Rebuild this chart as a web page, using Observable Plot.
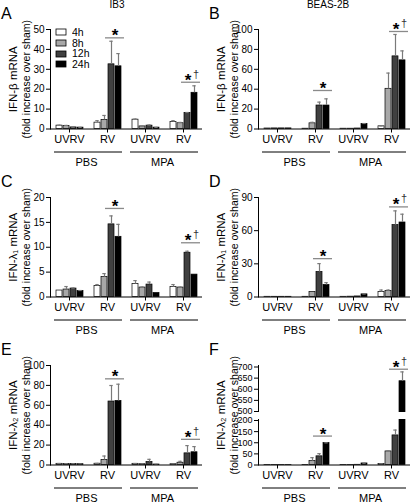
<!DOCTYPE html>
<html><head><meta charset="utf-8">
<script src="https://cdn.jsdelivr.net/npm/d3@7"></script>
<script src="https://cdn.jsdelivr.net/npm/@observablehq/plot@0.6"></script>
<style>
html,body{margin:0;padding:0;background:#fff;}
#fig{position:relative;width:416px;height:503px;overflow:hidden;font-family:Arial,"Liberation Sans",Helvetica,sans-serif;color:#000;}
#fig .panel{position:absolute;}
#fig .letter{position:absolute;font-size:16px;line-height:1;}
#fig .title{position:absolute;font-size:10px;line-height:1;transform:translateX(-50%);white-space:nowrap;}
#fig .legbox{position:absolute;left:56px;top:27px;}
#fig .leg-swatches{font-family:Arial,"Liberation Sans",sans-serif !important;font-size:10.5px !important;margin:0 !important;}
#fig .leg-swatch{padding-bottom:0 !important;height:10.7px;line-height:10.7px;}
#fig .leg-swatch svg{margin-right:6px !important;}
#fig .leg-swatch svg rect{stroke:#000;stroke-width:0.8px;}
</style></head>
<body><div id="fig"></div>
<script>
const FONT = 'Arial, "Liberation Sans", Helvetica, sans-serif';

// categories
const times = ["4h", "8h", "12h", "24h"];
const treatments = ["PBS", "MPA"];
const infections = ["UVRV", "RV"];
const groups = ["PBS|UVRV", "PBS|RV", "MPA|UVRV", "MPA|RV"];
const timeColors = ["#ffffff", "#a8a8a8", "#404040", "#000000"];
const cellLines = ["IB3", "BEAS-2B"];
const letters = ["A", "B", "C", "D", "E", "F"];
const yLabels = ["IFN-β mRNA", "IFN-λ₁ mRNA", "IFN-λ₂ mRNA"];
const yLabel2 = "(fold increase over sham)";

// A: IFN-beta, IB3 (rows = groups, cols = times)
const meanA = [[1.7, 1.5, 0.8, 0.7], [3.2, 4.6, 32.5, 31.5], [4.7, 1.3, 1.7, 0.7], [3.5, 2.9, 8.1, 18.2]];
const errA  = [[0.2, 0.3, 0.1, 0.1], [1.0, 2.2, 11.6, 6.4], [0.3, 0.1, 0.3, 0.1], [0.7, 0.4, 0.2, 3.5]];
const ticksA = [0, 10, 20, 30, 40, 50];
const sigA = [45.8, 23.5];
// B: IFN-beta, BEAS-2B
const meanB = [[0.5, 0.6, 0.6, 0.6], [0.3, 5.7, 23.6, 23.6], [0.3, 0.3, 0.5, 5.0], [2.7, 40.4, 73, 69]];
const errB  = [[0, 0, 0, 0], [0, 1.0, 3.4, 6.7], [0, 0, 0, 0.5], [0.3, 15.8, 22, 9.5]];
const ticksB = [0, 20, 40, 60, 80, 100];
const sigB = [38.7, 98];
// C: IFN-lambda1, IB3
const meanC = [[1.3, 1.5, 1.7, 1.2], [2.2, 4.0, 14.6, 12.1], [2.6, 1.9, 2.5, 0.8], [2.0, 1.9, 8.9, 4.5]];
const errC  = [[0, 0.6, 0.1, 0.1], [0.3, 0.7, 1.7, 2.5], [0.7, 0.1, 0.5, 0], [0.5, 0.1, 0.3, 0]];
const ticksC = [0, 5, 10, 15, 20];
const sigC = [17.8, 10.9];
// D: IFN-lambda1, BEAS-2B
const meanD = [[0.2, 0.2, 0.2, 0.2], [0.2, 4.5, 22.6, 10.9], [0.2, 0.3, 0.5, 2.4], [4.5, 5.4, 65, 67.4]];
const errD  = [[0, 0, 0, 0], [0, 0, 7.6, 2.1], [0, 0, 0, 0.3], [1.8, 0.9, 12.9, 7.5]];
const ticksD = [0, 30, 60, 90];
const sigD = [34.7, 81.5];
// E: IFN-lambda2, IB3
const meanE = [[1.2, 1.0, 1.0, 0.8], [1.3, 5.0, 63.8, 64.4], [1.2, 0.8, 3.0, 0.5], [0.8, 2.3, 11.7, 12.8]];
const errE  = [[0.3, 0.3, 0.2, 0.2], [0.3, 4.0, 16.1, 16.8], [0.3, 0.2, 2.7, 0.1], [0.2, 1.4, 7.8, 5.7]];
const ticksE = [0, 20, 40, 60, 80, 100];
const sigE = [86.6, 25.8];
// F: IFN-lambda2, BEAS-2B (broken axis 200 -> 500)
const meanF = [[0.2, 0.2, 0.2, 0.2], [0.3, 17.4, 39, 98.5], [0.2, 0.2, 1, 7], [4, 61, 133, 636]];
const errF  = [[0, 0, 0, 0], [0, 15.6, 12, 1], [0, 0, 0, 1], [0.5, 3, 24, 42]];
const ticksF = [0, 50, 100, 150, 200, 500, 550, 600, 650, 700];
const sigF = [130, 690];
const breakF = [200, 500];

const panels = [
  {mean: meanA, err: errA, ticks: ticksA, sig: sigA, gene: 0},
  {mean: meanB, err: errB, ticks: ticksB, sig: sigB, gene: 0},
  {mean: meanC, err: errC, ticks: ticksC, sig: sigC, gene: 1},
  {mean: meanD, err: errD, ticks: ticksD, sig: sigD, gene: 1},
  {mean: meanE, err: errE, ticks: ticksE, sig: sigE, gene: 2},
  {mean: meanF, err: errF, ticks: ticksF, sig: sigF, gene: 2, brk: breakF}
];

const W = 208, H = 168, MT = 29, MB = 39.5, ML = 49, MR = 5;

function makePanel(p) {
  const rows = groups.flatMap((g, i) => times.map((t, j) => ({group: g, time: t, mean: p.mean[i][j], err: p.err[i][j]})));
  const errRows = rows.filter(d => d.err > 0);
  const sigPBS = [{group: groups[1], y: p.sig[0], star: "*"}];
  const sigMPA = [{group: groups[3], y: p.sig[1], star: "*", dag: "†"}];
  const top = d3.max(p.ticks);
  const yScale = p.brk
    ? {type: "linear", domain: [0, p.brk[0], p.brk[1], top], range: [H - MB, 84, 75, 30.5]}
    : {domain: [0, top]};
  const marks = [
    Plot.barY(rows, {fx: "group", x: "time", y: "mean", fill: "time", stroke: "#000", strokeWidth: 0.7}),
    Plot.ruleX(errRows, {fx: "group", x: "time", y1: "mean", y2: d => d.mean + d.err, stroke: "#7a7a7a", strokeWidth: 1.2}),
    Plot.tickY(errRows, {fx: "group", x: "time", y: d => d.mean + d.err, stroke: "#7a7a7a", strokeWidth: 1.2, insetLeft: 1.3, insetRight: 1.3})
  ];
  if (p.brk) {
    marks.push(Plot.rect([p.brk], {y1: d => d[0], y2: d => d[1], fill: "#fff", insetTop: 1, insetBottom: 1, insetLeft: -3}));
  }
  marks.push(
    Plot.ruleY([0], {stroke: "#000", strokeWidth: 1}),
    Plot.axisFx({anchor: "bottom", tickSize: 4, tickPadding: 2, fontSize: 11, label: null, tickFormat: d => d.split("|")[1]}),
    Plot.ruleY(groups.filter(g => g.endsWith("|UVRV")), {fx: d => d, y: () => 0, dy: 23, insetLeft: 4, stroke: "#000"}),
    Plot.ruleY(groups.filter(g => g.endsWith("|RV")), {fx: d => d, y: () => 0, dy: 23, insetRight: 4, stroke: "#000"}),
    Plot.text(treatments, {fx: d => d + "|UVRV", text: d => d, frameAnchor: "bottom-right", textAnchor: "middle", lineAnchor: "middle", dy: 33, dx: -2, fontSize: 11}),
    Plot.ruleY(sigPBS.concat(sigMPA), {fx: "group", y: "y", insetLeft: 17, insetRight: 2, stroke: "#8a8a8a", strokeWidth: 1.3}),
    Plot.text(sigPBS, {fx: "group", x: () => "12h", y: "y", text: "star", dx: 3.6, dy: -2, fontSize: 17, fontWeight: "bold", lineAnchor: "middle"}),
    Plot.text(sigMPA, {fx: "group", x: () => "12h", y: "y", text: "star", dx: 0.6, dy: -2, fontSize: 17, fontWeight: "bold", lineAnchor: "middle"}),
    Plot.text(sigMPA, {fx: "group", x: () => "12h", y: "y", text: "dag", dx: 8.5, dy: -8, fontSize: 11, fill: "#333", lineAnchor: "middle"}),
    Plot.text([yLabels[p.gene]], {fx: () => groups[0], text: d => d, frameAnchor: "left", textAnchor: "middle", lineAnchor: "middle", rotate: -90, dx: -37, fontSize: 11.5}),
    Plot.text([yLabel2], {fx: () => groups[0], text: d => d, frameAnchor: "left", textAnchor: "middle", lineAnchor: "middle", rotate: -90, dx: -24, fontSize: 10.5})
  );
  return Plot.plot({
    width: W, height: H, marginTop: MT, marginBottom: MB, marginLeft: ML, marginRight: MR,
    style: {fontFamily: FONT, fontSize: p.brk ? "9px" : "10px", overflow: "visible", background: "transparent", color: "#000"},
    fx: {domain: groups, paddingInner: 0, paddingOuter: 0, label: null},
    x: {domain: times, paddingInner: 0.15, paddingOuter: 0.55, axis: null},
    y: {...yScale, ticks: p.ticks, tickSize: 4, tickPadding: 2, label: null, line: true, tickFormat: d => String(d)},
    color: {domain: times, range: timeColors},
    marks
  });
}

const fig = document.getElementById("fig");
panels.forEach((p, k) => {
  const col = k % 2, row = Math.floor(k / 2);
  const wrap = document.createElement("div");
  wrap.className = "panel";
  wrap.style.left = (col * W) + "px";
  wrap.style.top = (row * H) + "px";
  wrap.appendChild(makePanel(p));
  fig.appendChild(wrap);
  const L = document.createElement("div");
  L.className = "letter";
  L.textContent = letters[k];
  L.style.left = (col * W + 1) + "px";
  L.style.top = (row * H + 6) + "px";
  fig.appendChild(L);
});
cellLines.forEach((c, i) => {
  const t = document.createElement("div");
  t.className = "title";
  t.textContent = c;
  t.style.left = (i === 0 ? 117 : 328) + "px";
  t.style.top = "0px";
  fig.appendChild(t);
});
const legBox = document.createElement("div");
legBox.className = "legbox";
legBox.appendChild(Plot.legend({color: {type: "ordinal", domain: times, range: timeColors}, legend: "swatches", columns: 1, swatchWidth: 10, swatchHeight: 6, className: "leg"}));
fig.appendChild(legBox);
</script>
</body></html>
